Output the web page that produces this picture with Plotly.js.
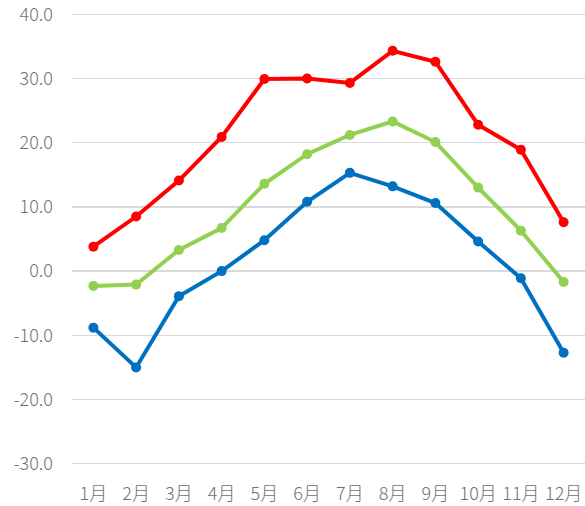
<!DOCTYPE html>
<html>
<head>
<meta charset="utf-8">
<script src="https://cdn.plot.ly/plotly-3.0.1.min.js"></script>
<style>html,body{margin:0;padding:0;background:#fff;}#chart{width:585px;height:506px;}</style>
</head>
<body>
<div id="chart"></div>
<script>
const months = ["1月","2月","3月","4月","5月","6月","7月","8月","9月","10月","11月","12月"];
const maxTemp = [3.8, 8.5, 14.1, 20.9, 29.9, 30.0, 29.3, 34.3, 32.6, 22.8, 18.9, 7.6];
const avgTemp = [-2.3, -2.1, 3.3, 6.7, 13.6, 18.2, 21.2, 23.3, 20.1, 13.0, 6.3, -1.7];
const minTemp = [-8.8, -15.0, -3.9, 0.0, 4.8, 10.8, 15.3, 13.2, 10.6, 4.6, -1.1, -12.7];
const yTicks = [-30, -20, -10, 0, 10, 20, 30, 40];

const font = "'Noto Sans CJK JP', 'Noto Sans', sans-serif";
function series(y, color) {
  return {
    x: months, y: y, type: 'scatter', mode: 'lines+markers',
    line: {color: color, width: 4},
    marker: {color: color, size: 10},
    hoverinfo: 'skip'
  };
}
const data = [series(maxTemp, '#FF0000'), series(avgTemp, '#92D050'), series(minTemp, '#0070C0')];
const tf = {family: font, size: 18, color: '#707070', weight: 300};
const layout = {
  width: 585, height: 506,
  margin: {l: 72, r: 0, t: 11, b: 39},
  paper_bgcolor: '#fff', plot_bgcolor: '#fff',
  showlegend: false,
  font: {family: font, size: 18, color: '#707070'},
  xaxis: {
    type: 'category', range: [-0.5, 11.5],
    showgrid: false, zeroline: false, showline: false,
    ticks: '', ticklabelstandoff: 14,
    tickfont: tf
  },
  yaxis: {
    range: [-30.5, 40.5], tickvals: yTicks,
    ticktext: yTicks.map(v => v.toFixed(1)),
    showgrid: true, gridcolor: '#D9D9D9', gridwidth: 1.3,
    zeroline: false, showline: false, ticks: '',
    ticklabelstandoff: 18, ticklabeloverflow: 'allow',
    tickfont: tf
  }
};
Plotly.newPlot('chart', data, layout, {staticPlot: true, displayModeBar: false});
</script>
</body>
</html>
